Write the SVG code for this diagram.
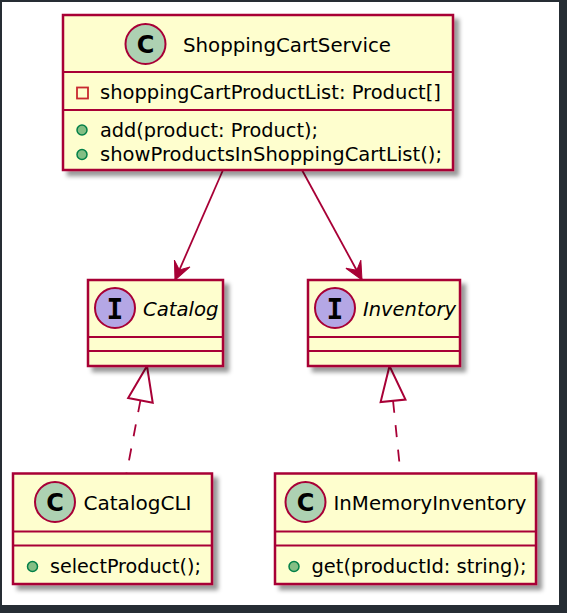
<svg xmlns="http://www.w3.org/2000/svg" width="567" height="613" viewBox="0 0 567 613">
<style>
.box{fill:#FEFECE;stroke:#A80036;stroke-width:2.5;filter:url(#sh)}
.sep{stroke:#A80036;stroke-width:2}
.name{font-family:"DejaVu Sans",sans-serif;font-size:20px;fill:#000}
.iname{font-family:"DejaVu Sans",sans-serif;font-size:20px;font-style:italic;fill:#000}
.mem{font-family:"DejaVu Sans",sans-serif;font-size:19.5px;fill:#000}
.cc{fill:#ADD1B2;stroke:#A80036;stroke-width:2}
.ic{fill:#B4A7E5;stroke:#A80036;stroke-width:2}
.cl{font-family:"DejaVu Sans",sans-serif;font-weight:bold;font-size:24px;fill:#000;text-anchor:middle}
.il{font-family:"DejaVu Sans Mono",monospace;font-weight:bold;font-size:28px;fill:#000;text-anchor:middle}
.pub{fill:#84BE84;stroke:#038048;stroke-width:1.5}
.priv{fill:none;stroke:#C82930;stroke-width:1.8}
.dep{fill:none;stroke:#A80036;stroke-width:1.8}
.real{fill:none;stroke:#A80036;stroke-width:1.8;stroke-dasharray:12,12.5;stroke-dashoffset:14}
</style>
<defs>
<filter id="sh" x="-10%" y="-10%" width="130%" height="130%">
<feGaussianBlur in="SourceAlpha" stdDeviation="2"/>
<feOffset dx="5" dy="5" result="b"/>
<feFlood flood-color="#000" flood-opacity="0.4"/>
<feComposite in2="b" operator="in"/>
<feMerge><feMergeNode/><feMergeNode in="SourceGraphic"/></feMerge>
</filter>
<marker id="arrow" markerUnits="userSpaceOnUse" orient="auto" refX="0" refY="0" markerWidth="40" markerHeight="40" overflow="visible">
<path d="M0,0 L-18,-8.5 L-11,0 L-18,8.5 Z" fill="#A80036" stroke="#A80036" stroke-width="1"/>
</marker>
<marker id="tri" markerUnits="userSpaceOnUse" orient="auto" refX="0" refY="0" markerWidth="40" markerHeight="40" overflow="visible">
<path d="M0,0 L35,-12.5 L35,12.5 Z" fill="#FFFFFF" stroke="#A80036" stroke-width="2" stroke-dasharray="none"/>
</marker>
</defs>
<rect x="0" y="0" width="567" height="613" fill="#262D34"/>
<rect x="2" y="2" width="557" height="603" fill="#FFFFFF"/>

<g id="connectors">
<path class="dep" d="M223,170 L175,280" marker-end="url(#arrow)"/>
<path class="dep" d="M302,170 L362,280" marker-end="url(#arrow)"/>
<path class="real" d="M147,366 L126.5,473.5" marker-start="url(#tri)"/>
<path class="real" d="M389.5,366 L400.5,473.5" marker-start="url(#tri)"/>
</g>

<g id="ShoppingCartService">
<rect class="box" x="63" y="15" width="390" height="155"/>
<line class="sep" x1="63" y1="72" x2="453" y2="72"/>
<line class="sep" x1="63" y1="110" x2="453" y2="110"/>
<circle class="cc" cx="145.5" cy="44" r="20"/>
<text class="cl" x="145.5" y="52.5">C</text>
<text class="name" x="183" y="52" textLength="208" lengthAdjust="spacingAndGlyphs">ShoppingCartService</text>
<rect class="priv" x="77" y="87.5" width="11" height="11"/>
<text class="mem" x="100" y="99" textLength="341" lengthAdjust="spacingAndGlyphs">shoppingCartProductList: Product[]</text>
<circle class="pub" cx="82" cy="130" r="5"/>
<text class="mem" x="100" y="137" textLength="218" lengthAdjust="spacingAndGlyphs">add(product: Product);</text>
<circle class="pub" cx="82" cy="154.5" r="5"/>
<text class="mem" x="100" y="161" textLength="342" lengthAdjust="spacingAndGlyphs">showProductsInShoppingCartList();</text>
</g>

<g id="Catalog">
<rect class="box" x="88" y="280" width="135" height="86"/>
<line class="sep" x1="88" y1="337" x2="223" y2="337"/>
<line class="sep" x1="88" y1="351" x2="223" y2="351"/>
<circle class="ic" cx="115" cy="308" r="20"/>
<text class="il" x="115" y="318.5">I</text>
<text class="iname" x="143" y="316" textLength="75.5" lengthAdjust="spacingAndGlyphs">Catalog</text>
</g>

<g id="Inventory">
<rect class="box" x="308" y="280" width="152" height="86"/>
<line class="sep" x1="308" y1="337" x2="460" y2="337"/>
<line class="sep" x1="308" y1="351" x2="460" y2="351"/>
<circle class="ic" cx="335" cy="308" r="20"/>
<text class="il" x="335" y="318.5">I</text>
<text class="iname" x="363" y="316" textLength="93" lengthAdjust="spacingAndGlyphs">Inventory</text>
</g>

<g id="CatalogCLI">
<rect class="box" x="13" y="473.5" width="199" height="110.5"/>
<line class="sep" x1="13" y1="531.5" x2="212" y2="531.5"/>
<line class="sep" x1="13" y1="545.5" x2="212" y2="545.5"/>
<circle class="cc" cx="55" cy="502" r="20"/>
<text class="cl" x="55" y="510.5">C</text>
<text class="name" x="83.5" y="510" textLength="108" lengthAdjust="spacingAndGlyphs">CatalogCLI</text>
<circle class="pub" cx="32.5" cy="566.5" r="5"/>
<text class="mem" x="50" y="573" textLength="151" lengthAdjust="spacingAndGlyphs">selectProduct();</text>
</g>

<g id="InMemoryInventory">
<rect class="box" x="275" y="473.5" width="261" height="110.5"/>
<line class="sep" x1="275" y1="531.5" x2="536" y2="531.5"/>
<line class="sep" x1="275" y1="545.5" x2="536" y2="545.5"/>
<circle class="cc" cx="305.5" cy="502" r="20"/>
<text class="cl" x="305.5" y="510.5">C</text>
<text class="name" x="333.5" y="510" textLength="193" lengthAdjust="spacingAndGlyphs">InMemoryInventory</text>
<circle class="pub" cx="294" cy="566.5" r="5"/>
<text class="mem" x="311.5" y="573" textLength="215" lengthAdjust="spacingAndGlyphs">get(productId: string);</text>
</g>
</svg>
